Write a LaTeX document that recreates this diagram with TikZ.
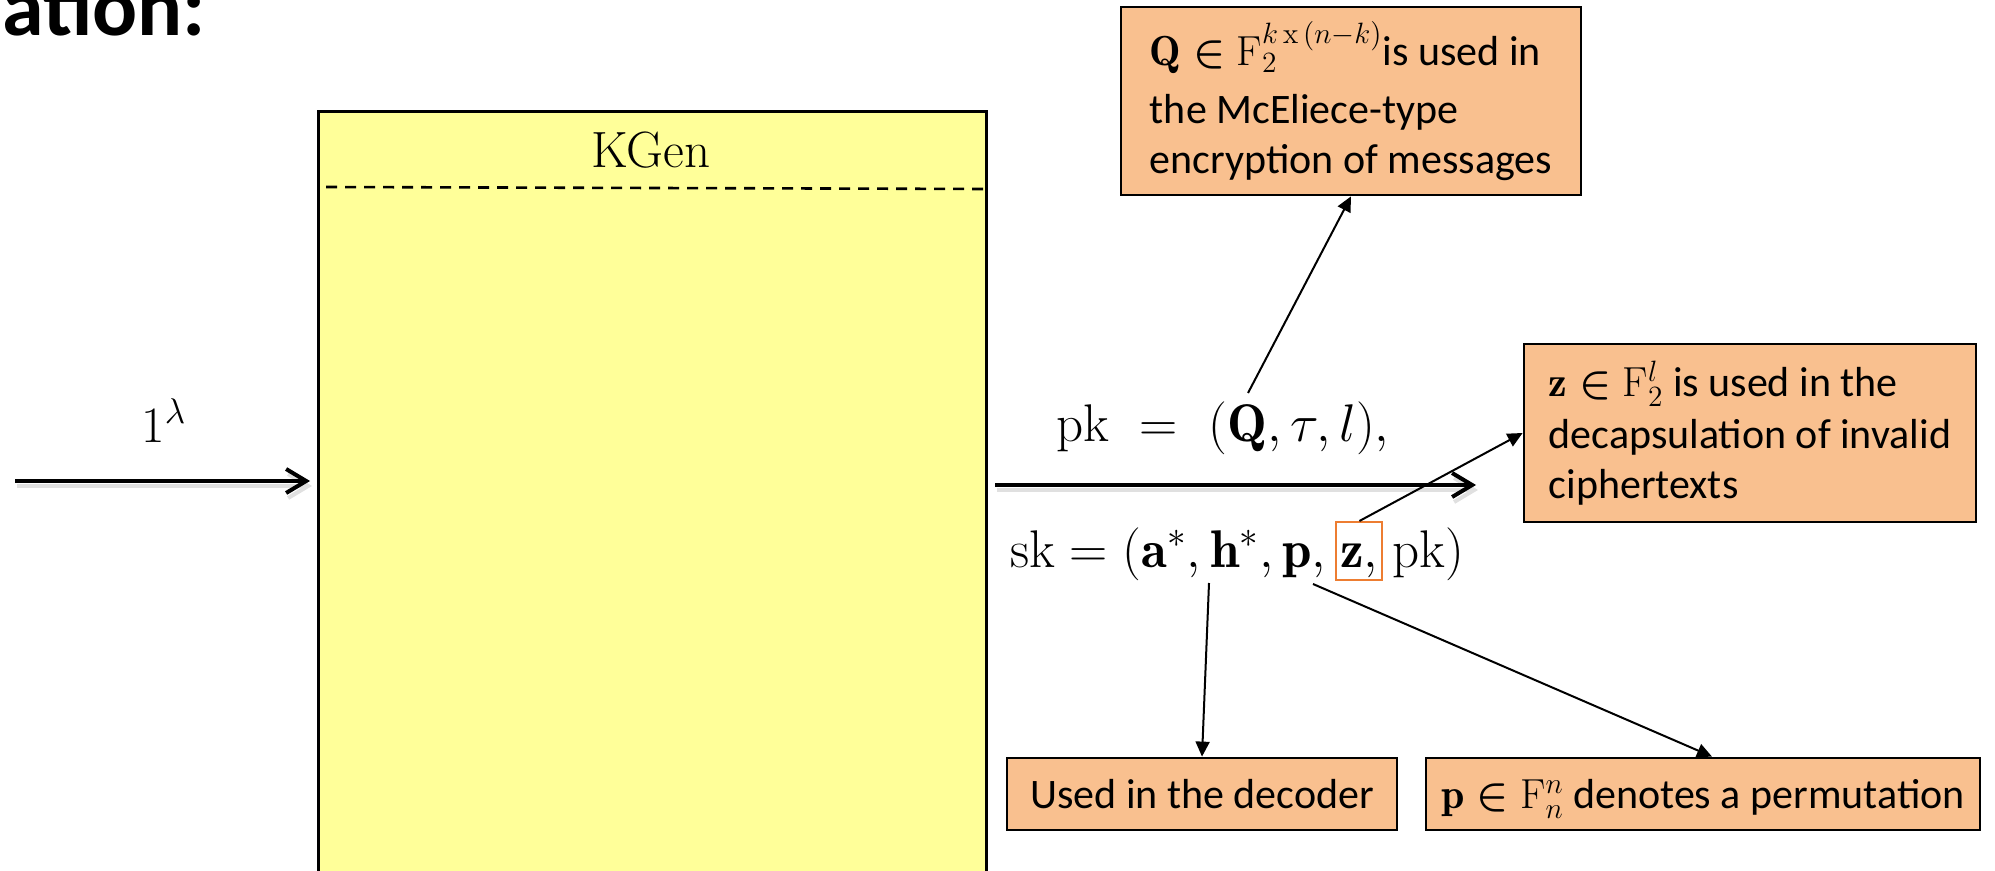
\documentclass[tikz,border=0pt]{standalone}
\usepackage{fix-cm}
\usepackage{fontspec}
\usepackage{bm}
\newfontfamily\carl{Carlito}
\usetikzlibrary{arrows.meta}
\definecolor{kyellow}{RGB}{255,255,153}
\definecolor{lorange}{RGB}{249,192,143}
\definecolor{zorange}{RGB}{237,125,49}
\begin{document}
\begin{tikzpicture}[x=0.5pt,y=-0.5pt,
  serif/.style={font=\fontsize{25.5}{30}\selectfont, inner sep=0},
  mathlbl/.style={font=\fontsize{26.5}{32}\selectfont, inner sep=0},
  note/.style={draw=black, line width=1.4pt, fill=lorange, font=\carl\fontsize{21}{25}\selectfont, inner sep=0, align=left},
  kbox/.style={draw=black, line width=1.6pt, fill=kyellow},
  bigarrow/.style={line width=2pt, -{Straight Barb[length=10pt,width=12pt]}},
  arrowshadow/.style={bigarrow, draw=black!12, transform canvas={shift={(2,5)}}},
  callout/.style={line width=1pt, -{Triangle[length=7.5pt,width=7pt]}},
  zmark/.style={draw=zorange, line width=1pt, inner xsep=2pt, inner ysep=1pt, text height=21.5pt, text depth=5.5pt}
]
\useasboundingbox (0,0) rectangle (1995,871);
\clip (0,0) rectangle (1995,871);

% heading fragment
\node[anchor=base west, inner sep=0, font=\carl\bfseries\fontsize{42}{45}\selectfont] (title) at (2,36) {ation:};

% KGen box
\node[kbox, minimum width=334pt, minimum height=400pt, anchor=north west] (kgen) at (317,110) {};
\node[serif, anchor=base] (kgt) at (651,168) {KGen};
\draw[line width=1.3pt, dash pattern=on 5.5pt off 4pt] (326,187) -- (985,189);

% input arrow
\coordinate (in0) at (15,481);
\draw[arrowshadow, shorten >=3.5pt] (in0) -- (in0 -| kgen.west);
\draw[bigarrow, shorten >=3.5pt] (in0) -- (in0 -| kgen.west);
\node[serif, anchor=base west] (lam) at (141,442) {$1^{\lambda}$};

% output arrow
\coordinate (out0) at (985,485);
\coordinate (out1) at (1476,485);
\draw[arrowshadow, shorten <=5pt] (out0) -- (out1);
\draw[bigarrow, shorten <=5pt] (out0) -- (out1);

% pk / sk
\node[mathlbl, anchor=base west] (pk) at (1056,441) {$\mathrm{pk}\ =\ (\mathbf{Q}, \tau, l),$};
\node[mathlbl, anchor=base west] (sk1) at (1010,567) {$\mathrm{sk} = (\mathbf{a}^{*}, \mathbf{h}^{*}, \mathbf{p},\,$};
\node[mathlbl, zmark, anchor=base west] (zz) at (sk1.base east) {$\mathbf{z},$};
\node[mathlbl, anchor=base west] (sk2) at (zz.base east) {$\,\mathrm{pk})$};

% note boxes
\node[note, minimum width=230pt, minimum height=94pt] (qbox) at (1351,101)
  {$\mathbf{Q}\mathrel{\bm{\in}}\mathrm{F}_2^{k\,\mathrm{x}\,(n-k)}$is used in\\[4pt] the McEliece-type\\ encryption of messages};
\node[note, minimum width=226pt, minimum height=89pt] (znote) at (1750,433)
  {$\mathbf{z}\mathrel{\bm{\in}}\mathrm{F}_2^{l}$ is used in the\\[1pt] decapsulation of invalid\\ ciphertexts};
\node[note, minimum width=195pt, minimum height=36pt, text height=14.5pt, text depth=0pt] (used) at (1202,794) {Used in the decoder};
\node[note, minimum width=277pt, minimum height=36pt, text height=14.5pt, text depth=0pt] (pbox) at (1703,794)
  {$\mathbf{p}\mathrel{\bm{\in}}\mathrm{F}_n^n$ denotes a permutation};

% callouts
\coordinate (qs) at (1248,393);
\coordinate (as) at (1209,583);
\coordinate (ps) at (1313,584);
\draw[callout] (qs) -- (qbox.south);
\draw[callout] (zz.north) -- (znote.west);
\draw[callout] (as) -- (used.north);
\draw[callout] (ps) -- ([xshift=4.5pt]pbox.north);
\end{tikzpicture}
\end{document}
